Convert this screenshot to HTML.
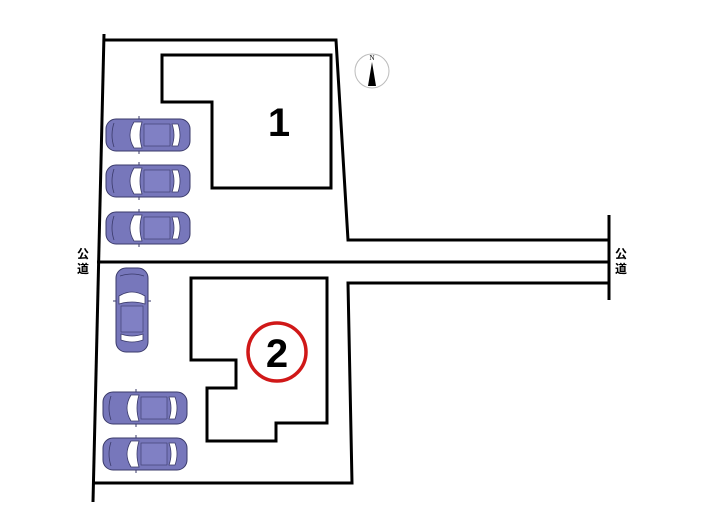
<!DOCTYPE html>
<html><head><meta charset="utf-8"><style>
body{margin:0;background:#fff}
svg{display:block}
</style></head><body>
<svg width="705" height="525" viewBox="0 0 705 525" xmlns="http://www.w3.org/2000/svg">
<defs>
<g id="car">
<rect x="0" y="0" width="84" height="32" rx="10" fill="#7777bb" stroke="#3a3a6a" stroke-width="1"/>
<path d="M28 3 Q20 16 28 29 L36 29 Q32 16 36 3Z" fill="#fff" stroke="#3a3a6a" stroke-width="0.8"/>
<path d="M66 5 Q70 16 66 27 L72 27 Q76 16 72 5Z" fill="#fff" stroke="#3a3a6a" stroke-width="0.8"/>
<rect x="38" y="5" width="26" height="22" fill="#8080c4" stroke="#3a3a6a" stroke-width="0.6"/>
<path d="M8 4 Q4 16 8 28" fill="none" stroke="#3a3a6a" stroke-width="0.8"/>
<line x1="33" y1="0" x2="33" y2="-3" stroke="#3a3a6a"/><line x1="33" y1="32" x2="33" y2="35" stroke="#3a3a6a"/>
</g>
</defs>
<g fill="none" stroke="#000" stroke-width="3">
<line x1="104" y1="34" x2="93" y2="502"/>
<polyline points="103,40 336,40 348,240 610,240"/>
<line x1="97" y1="262" x2="610" y2="262"/>
<polyline points="610,283 348,283 352,483 94,483"/>
<line x1="609" y1="215" x2="609" y2="300"/>
<polygon points="162,55 331,55 331,188 212,188 212,102 162,102"/>
<polygon points="191,278 327,278 327,423 276,423 276,441 207,441 207,388 236,388 236,360 191,360"/>
</g>
<use href="#car" transform="translate(106,119)"/>
<use href="#car" transform="translate(106,165)"/>
<use href="#car" transform="translate(106,212)"/>
<use href="#car" transform="translate(148,268) rotate(90)"/>
<use href="#car" transform="translate(103,392)"/>
<use href="#car" transform="translate(103,438)"/>
<circle cx="372" cy="71" r="17" fill="none" stroke="#bbb" stroke-width="1"/>
<text x="372" y="60" font-family="Liberation Serif, serif" font-size="7" text-anchor="middle">N</text>
<polygon points="372,62 368,86 376,86" fill="#000"/>
<text x="279" y="136" font-family="Liberation Sans, sans-serif" font-size="40" font-weight="bold" text-anchor="middle">1</text>
<circle cx="277" cy="352" r="29" fill="none" stroke="#d01818" stroke-width="3.5"/>
<text x="277" y="367" font-family="Liberation Sans, sans-serif" font-size="40" font-weight="bold" text-anchor="middle">2</text>
<g font-family="Liberation Sans, 'Noto Sans CJK JP', sans-serif" font-size="12" font-weight="bold" text-anchor="middle">
<text x="83" y="258">公</text><text x="83" y="273">道</text>
<text x="621" y="258">公</text><text x="621" y="273">道</text>
</g>
</svg>
</body></html>
